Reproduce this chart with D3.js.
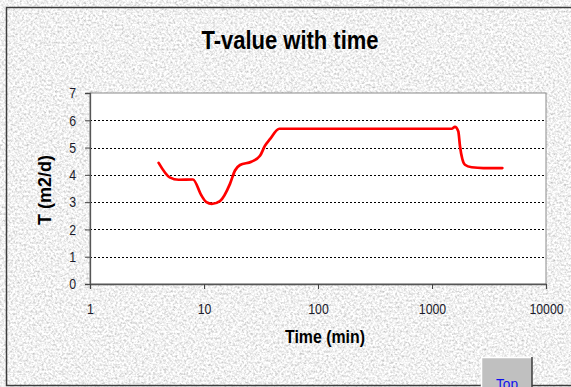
<!DOCTYPE html>
<html>
<head>
<meta charset="utf-8">
<script src="https://cdn.jsdelivr.net/npm/d3@7"></script>
<style>
  html, body { margin: 0; padding: 0; background: #ffffff; overflow: hidden; }
  svg { display: block; }
</style>
</head>
<body>
<svg id="chart" width="571" height="387"></svg>
<script>
// ---- data ----
const chartTitle = "T-value with time";
const xAxisTitle = "Time (min)";
const yAxisTitle = "T (m2/d)";
const xTickValues = [1, 10, 100, 1000, 10000];
const yTickValues = [0, 1, 2, 3, 4, 5, 6, 7];
const timeMin = [4.0, 5.0, 6.0, 8.0, 9.5, 10.5, 11.7, 13.8, 16.9, 18.7, 20.7, 26, 31, 34.3, 37.9, 45.8, 1490, 1590, 1700, 1760, 1845, 1945, 2230, 2820, 4140];
const tValue  = [4.44, 3.91, 3.82, 3.83, 3.24, 3.0, 2.94, 3.04, 3.67, 4.16, 4.36, 4.48, 4.70, 5.07, 5.31, 5.69, 5.69, 5.76, 5.6, 5.05, 4.58, 4.37, 4.28, 4.25, 4.25];
const buttonLabel = "Top";

// ---- layout ----
const svg = d3.select("#chart");
const plot = { left: 90, right: 546, top: 93, bottom: 284 };
const FONT = "'Liberation Sans', Arial, sans-serif";

function squeeze(sel, f) {
  sel.each(function () {
    const w = this.getComputedTextLength();
    d3.select(this).attr("textLength", w * f).attr("lengthAdjust", "spacingAndGlyphs");
  });
}

// background texture
const defs = svg.append("defs");
const flt = defs.append("filter").attr("id", "granite")
  .attr("filterUnits", "userSpaceOnUse")
  .attr("x", 0).attr("y", 0).attr("width", 640).attr("height", 400);
flt.append("feTurbulence").attr("type", "fractalNoise").attr("baseFrequency", "0.45")
  .attr("numOctaves", 3).attr("seed", 7).attr("result", "t");
flt.append("feColorMatrix").attr("in", "t").attr("type", "matrix")
  .attr("values", "0.9 0 0 0 0.43  0.9 0 0 0 0.43  0.9 0 0 0 0.43  0 0 0 0 1");

svg.append("rect").attr("x", 6).attr("y", 7).attr("width", 620).attr("height", 378)
  .attr("fill", "#e0e0e0");
svg.append("rect").attr("x", 6).attr("y", 7).attr("width", 620).attr("height", 378)
  .attr("fill", "#e0e0e0").attr("filter", "url(#granite)");
svg.append("rect").attr("x", 6.5).attr("y", 7.5).attr("width", 620).attr("height", 378)
  .attr("fill", "none").attr("stroke", "#3c3c3c").attr("stroke-width", 1.5);

// scales
const x = d3.scaleLog().domain([1, 10000]).range([plot.left, plot.right]);
const y = d3.scaleLinear().domain([0, 7]).range([plot.bottom, plot.top]);

// plot area
svg.append("rect").attr("x", plot.left).attr("y", plot.top)
  .attr("width", plot.right - plot.left).attr("height", plot.bottom - plot.top)
  .attr("fill", "#ffffff").attr("stroke", "#8a8a8a").attr("stroke-width", 1);

// gridlines
svg.append("g").selectAll("line").data(yTickValues.filter(v => v > 0 && v < 7)).join("line")
  .attr("x1", plot.left).attr("x2", plot.right)
  .attr("y1", d => Math.round(y(d)) + 0.5).attr("y2", d => Math.round(y(d)) + 0.5)
  .attr("stroke", "#000").attr("stroke-width", 1).attr("stroke-dasharray", "2,2");

// axes
const yAxis = svg.append("g").attr("transform", `translate(${plot.left},0)`)
  .call(d3.axisLeft(y).tickValues(yTickValues).tickFormat(d3.format("d")).tickSize(5).tickPadding(9));
const xAxis = svg.append("g").attr("transform", `translate(0,${plot.bottom})`)
  .call(d3.axisBottom(x).tickValues(xTickValues).tickFormat(d3.format("d")).tickSize(5).tickPadding(14));
[xAxis, yAxis].forEach(g => {
  g.select(".domain").attr("stroke", "#555").attr("stroke-width", 1.3);
  g.selectAll(".tick line").attr("stroke", "#444");
  g.selectAll("text").attr("font-family", FONT).attr("font-size", 15).attr("fill", "#1a1a2a");
  squeeze(g.selectAll("text"), 0.82);
});

// line
const line = d3.line().x((d, i) => x(timeMin[i])).y((d, i) => y(tValue[i])).curve(d3.curveMonotoneX);
svg.append("path").datum(tValue).attr("d", line)
  .attr("fill", "none").attr("stroke", "#ff0000").attr("stroke-width", 2.7)
  .attr("stroke-linejoin", "round").attr("stroke-linecap", "round");

// titles
svg.append("text").attr("x", 290).attr("y", 48.5).attr("text-anchor", "middle")
  .attr("font-family", FONT).attr("font-weight", "bold").attr("font-size", 25).attr("fill", "#000")
  .text(chartTitle).attr("textLength", 177).attr("lengthAdjust", "spacingAndGlyphs");

svg.append("text").attr("x", 325).attr("y", 342.5).attr("text-anchor", "middle")
  .attr("font-family", FONT).attr("font-weight", "bold").attr("font-size", 19).attr("fill", "#000")
  .text(xAxisTitle).attr("textLength", 80).attr("lengthAdjust", "spacingAndGlyphs");

svg.append("text").attr("transform", "translate(51,190) rotate(-90)").attr("text-anchor", "middle")
  .attr("font-family", FONT).attr("font-weight", "bold").attr("font-size", 18).attr("fill", "#000")
  .text(yAxisTitle);

// "Top" button (partly below the window edge, as in the reference)
const bx = 481, by = 357;
svg.append("rect").attr("x", bx).attr("y", by).attr("width", 51).attr("height", 40).attr("fill", "#c0c0c0");
svg.append("path").attr("d", `M${bx + 0.5},${by + 40}V${by + 0.5}H${bx + 51}`).attr("fill", "none")
  .attr("stroke", "#ffffff").attr("stroke-width", 1.5);
svg.append("line").attr("x1", bx + 51).attr("x2", bx + 51).attr("y1", by).attr("y2", by + 40)
  .attr("stroke", "#3c3c3c").attr("stroke-width", 1.5);
svg.append("text").attr("x", bx + 26).attr("y", 389).attr("text-anchor", "middle")
  .attr("font-family", FONT).attr("font-size", 15).attr("fill", "#1010ee")
  .text(buttonLabel).attr("textLength", 22).attr("lengthAdjust", "spacingAndGlyphs");
</script>
</body>
</html>
